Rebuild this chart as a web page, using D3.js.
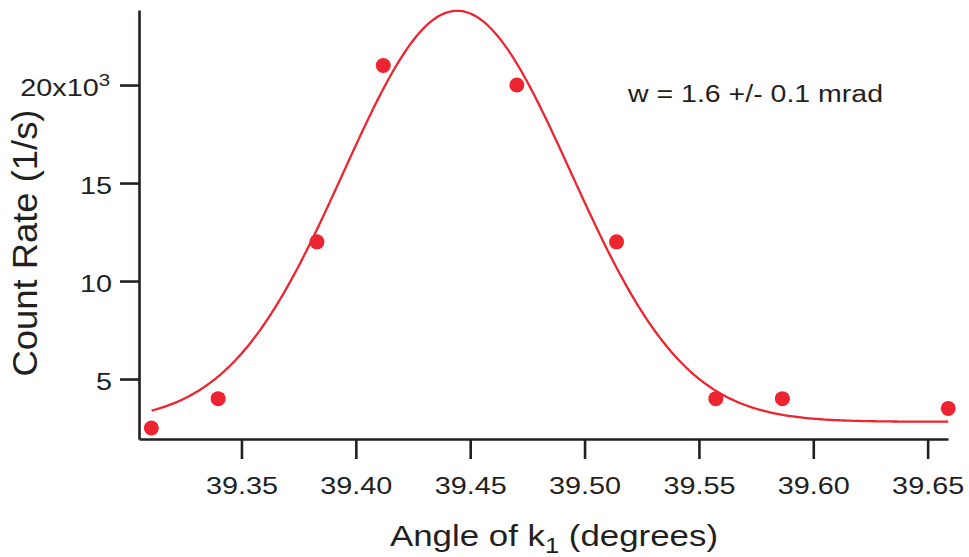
<!DOCTYPE html>
<html>
<head>
<meta charset="utf-8">
<script src="https://cdn.jsdelivr.net/npm/d3@7"></script>
<style>
  body { margin: 0; background: #fff; }
  text { font-family: "Liberation Sans", Arial, sans-serif; fill: #231f20; }
</style>
</head>
<body>
<div id="chart"></div>
<script>
// measured points
const angles = [39.3106, 39.3398, 39.383, 39.412, 39.4704, 39.514, 39.5574, 39.5865, 39.659];
const rates = [2.5, 4.0, 12.0, 21.0, 20.0, 12.0, 4.0, 4.0, 3.5];

// gaussian fit: y0 + A * exp(-((x - x0) / w)^2)
const fitY0 = 2.82, fitA = 20.97, fitX0 = 39.4443, fitW = 0.07035;
const fitRange = [39.3107, 39.659];

const xTicks = [39.35, 39.40, 39.45, 39.50, 39.55, 39.60, 39.65];
const yTicks = [5, 10, 15, 20];
const note = 'w = 1.6 +/- 0.1 mrad';

const width = 969, height = 557;
const margin = {top: 10, right: 21, bottom: 118, left: 139};
const red = '#ec2530', ink = '#231f20';
const stretch = 1.2; // glyphs in the source are wider than tall

const svg = d3.select('#chart').append('svg')
    .attr('width', width)
    .attr('height', height);

const x = d3.scaleLinear()
    .domain([39.3052, 39.6589])
    .range([margin.left, width - margin.right]);

const y = d3.scaleLinear()
    .domain([1.94, 23.83])
    .range([height - margin.bottom, margin.top]);

// axes
const xAxis = svg.append('g')
    .attr('transform', `translate(0,${height - margin.bottom})`)
    .call(d3.axisBottom(x).tickValues(xTicks).tickSize(20).tickSizeOuter(0)
      .tickFormat(d3.format('.2f')));

const yAxis = svg.append('g')
    .attr('transform', `translate(${margin.left},0)`)
    .call(d3.axisLeft(y).tickValues(yTicks).tickSize(19).tickSizeOuter(0)
      .tickFormat(d => d === 20 ? '20x10' : d));

[xAxis, yAxis].forEach(g => {
  g.select('.domain').attr('stroke', ink).attr('stroke-width', 2.6);
  g.selectAll('.tick line').attr('stroke', ink).attr('stroke-width', 2.6);
  g.selectAll('.tick text')
      .attr('font-size', 24)
      .attr('fill', ink)
      .attr('transform', `scale(${stretch},1)`);
});

xAxis.selectAll('.tick text').attr('y', 55).attr('dy', null);
yAxis.selectAll('.tick text')
    .attr('x', -27 / stretch)
    .attr('dy', 10);

yAxis.selectAll('.tick text')
    .filter(d => d === 20)
    .attr('x', -29 / stretch)
  .append('tspan')
    .attr('font-size', 17)
    .attr('dy', -10)
    .text('3');

// fit curve
const curveData = d3.range(0, 401).map(i => {
  const a = fitRange[0] + (fitRange[1] - fitRange[0]) * i / 400;
  return [a, fitY0 + fitA * Math.exp(-Math.pow((a - fitX0) / fitW, 2))];
});

svg.append('path')
    .datum(curveData)
    .attr('fill', 'none')
    .attr('stroke', red)
    .attr('stroke-width', 2.3)
    .attr('d', d3.line().x(d => x(d[0])).y(d => y(d[1])));

svg.selectAll('circle.pt')
    .data(angles)
  .enter().append('circle')
    .attr('class', 'pt')
    .attr('cx', d => x(d))
    .attr('cy', (d, i) => y(rates[i]))
    .attr('r', 7.5)
    .attr('fill', red);

// labels
svg.append('text')
    .attr('x', 628)
    .attr('y', 102)
    .attr('font-size', 23)
    .attr('textLength', 255)
    .attr('lengthAdjust', 'spacingAndGlyphs')
    .text(note);

const xTitle = svg.append('text')
    .attr('x', 390)
    .attr('y', 546)
    .attr('font-size', 30)
    .attr('textLength', 328)
    .attr('lengthAdjust', 'spacingAndGlyphs');
xTitle.append('tspan').text('Angle of k');
xTitle.append('tspan').attr('font-size', 22).attr('dy', 7).text('1');
xTitle.append('tspan').attr('dy', -7).text('\u00a0(degrees)');

svg.append('text')
    .attr('transform', 'translate(37,243) rotate(-90)')
    .attr('text-anchor', 'middle')
    .attr('font-size', 35)
    .attr('textLength', 267)
    .attr('lengthAdjust', 'spacingAndGlyphs')
    .text('Count Rate (1/s)');
</script>
</body>
</html>
